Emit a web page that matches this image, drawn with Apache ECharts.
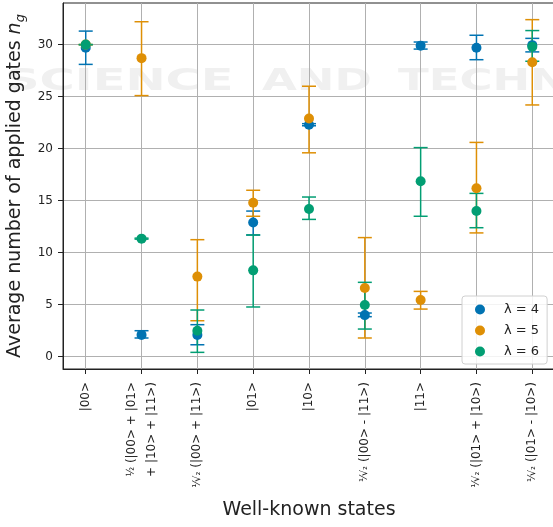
<!DOCTYPE html>
<html>
<head>
<meta charset="utf-8">
<script src="https://cdn.jsdelivr.net/npm/echarts@6/dist/echarts.min.js"></script>
<style>
  html, body { margin: 0; padding: 0; background: #fff; }
  #chart { width: 553px; height: 527px; }
</style>
</head>
<body>
<div id="chart"></div>
<script>
// well-known two-qubit states (x categories)
const states = [
  '|00>',
  '{f|½} (|00> + |01>\n+ |10> + |11>)',
  '{f|¹⁄√₂} (|00> + |11>)',
  '|01>',
  '|10>',
  '{f|¹⁄√₂} (|00> - |11>)',
  '|11>',
  '{f|¹⁄√₂} (|01> + |10>)',
  '{f|¹⁄√₂} (|01> - |10>)'
]
const yTicks = [0, 5, 10, 15, 20, 25, 30]

// λ = 4
const l4Mean = [29.7, 2.1, 2.1, 12.9, 22.3, 4.0, 29.9, 29.7, 29.95]
const l4Low  = [28.1, 1.8, 1.15, 11.7, 22.2, 3.85, 29.57, 28.55, 29.3]
const l4High = [31.3, 2.5, 3.08, 14.0, 22.4, 4.2, 30.25, 30.9, 30.6]
// λ = 5
const l5Mean = [30.0, 28.7, 7.7, 14.8, 22.9, 6.6, 5.45, 16.2, 28.3]
const l5Low  = [30.0, 25.1, 3.46, 13.5, 19.6, 1.8, 4.58, 11.9, 24.2]
const l5High = [30.0, 32.2, 11.25, 16.0, 26.0, 11.45, 6.28, 20.6, 32.4]
// λ = 6
const l6Mean = [30.0, 11.35, 2.5, 8.3, 14.2, 4.97, 16.86, 14.0, 29.8]
const l6Low  = [30.0, 11.3, 0.42, 4.78, 13.2, 2.66, 13.5, 12.4, 28.4]
const l6High = [30.0, 11.4, 4.49, 11.7, 15.35, 7.15, 20.1, 15.7, 31.35]

const names = ['λ = 4', 'λ = 5', 'λ = 6']
const colors = ['#0173b2', '#de8f05', '#029e73']
const groups = [
  [l4Mean, l4Low, l4High],
  [l5Mean, l5Low, l5High],
  [l6Mean, l6Low, l6High]
]

const font = 'DejaVu Sans'

function errorBar(params, api){
  const x = api.value(0)
  const top = api.coord([x, api.value(2)])
  const bot = api.coord([x, api.value(1)])
  const half = 7
  const style = { stroke: api.visual('color'), lineWidth: 1.5 }
  return {
    type: 'group',
    children: [
      { type: 'line', shape: { x1: top[0], y1: top[1], x2: bot[0], y2: bot[1] }, style },
      { type: 'line', shape: { x1: top[0] - half, y1: top[1], x2: top[0] + half, y2: top[1] }, style },
      { type: 'line', shape: { x1: bot[0] - half, y1: bot[1], x2: bot[0] + half, y2: bot[1] }, style }
    ]
  }
}

const series = []
groups.forEach((g, k) => {
  series.push({
    type: 'custom',
    name: names[k],
    color: colors[k],
    renderItem: errorBar,
    encode: { x: 0, y: [1, 2] },
    data: g[0].map((m, i) => [i, g[1][i], g[2][i]]),
    silent: true
  })
  series.push({
    type: 'scatter',
    name: names[k],
    color: colors[k],
    symbol: 'circle',
    symbolSize: 10,
    itemStyle: { opacity: 1 },
    data: g[0].map((m, i) => [i, m]),
    silent: true
  })
})

// faint publisher watermark behind the plot
const wm = 'bold 30px "DejaVu Sans"'
const chart = echarts.init(document.getElementById('chart'), null, { renderer: 'canvas' })
chart.setOption({
  animation: false,
  backgroundColor: '#fff',
  textStyle: { fontFamily: font },
  graphic: [
    { type: 'text', x: 5, y: 67, z: -10, silent: true, scaleX: 1.6,
      style: { text: 'SCIENCE', font: wm, fill: '#f0f0f0' } },
    { type: 'text', x: 262, y: 67, z: -10, silent: true, scaleX: 1.5,
      style: { text: 'AND', font: wm, fill: '#f0f0f0' } },
    { type: 'text', x: 398, y: 67, z: -10, silent: true, scaleX: 1.5,
      style: { text: 'TECHNOLOGY', font: wm, fill: '#f0f0f0' } }
  ],
  grid: {
    left: 63, top: 3, right: -2, bottom: 158,
    outerBoundsMode: 'none',
    containLabel: false,
    show: true, borderColor: '#222', borderWidth: 1, backgroundColor: 'transparent'
  },
  legend: {
    orient: 'vertical',
    left: 462, top: 296,
    padding: [6, 8, 5, 13],
    itemWidth: 10, itemHeight: 10, itemGap: 6,
    icon: 'circle',
    backgroundColor: 'rgba(255,255,255,0.85)',
    borderColor: '#d0d0d0', borderWidth: 1, borderRadius: 3,
    textStyle: { fontFamily: font, fontSize: 13, color: '#222', lineHeight: 15, padding: [0, 0, 0, 14] },
    data: names
  },
  xAxis: {
    type: 'value',
    min: -0.407, max: 8.407,
    splitNumber: 9,
    name: 'Well-known states',
    nameLocation: 'middle',
    nameGap: 132,
    nameTextStyle: { fontFamily: font, fontSize: 19, color: '#222' },
    axisLine: { show: true, onZero: false, lineStyle: { color: '#222', width: 1 } },
    axisTick: { show: true, length: 5, customValues: states.map((s, i) => i), lineStyle: { color: '#222' } },
    axisLabel: {
      customValues: states.map((s, i) => i),
      rotate: 90, margin: 13,
      fontFamily: font, fontSize: 12, color: '#222',
      lineHeight: 20,
      formatter: v => states[Math.round(v)] || '',
      rich: { f: { fontFamily: font, fontSize: 10, color: '#222' } }
    },
    splitLine: { show: true, lineStyle: { color: '#b0b0b0', width: 1 } }
  },
  yAxis: {
    type: 'value',
    min: -1.18, max: 34.0,
    splitNumber: 7,
    name: '{t|Average number of applied gates }{n|n}{g|g}',
    nameLocation: 'middle',
    nameGap: 35,
    nameRotate: 90,
    nameTextStyle: {
      fontFamily: font, fontSize: 19, color: '#222',
      rich: {
        t: { fontFamily: font, fontSize: 19, color: '#222', lineHeight: 24 },
        n: { fontFamily: font, fontSize: 19, color: '#222', fontStyle: 'italic', lineHeight: 24 },
        g: { fontFamily: font, fontSize: 13, color: '#222', fontStyle: 'italic', lineHeight: 24, verticalAlign: 'bottom', padding: [9, 0, 0, 0] }
      }
    },
    axisLine: { show: true, onZero: false, lineStyle: { color: '#222', width: 1 } },
    axisTick: { show: true, length: 5, customValues: yTicks, lineStyle: { color: '#222' } },
    axisLabel: {
      customValues: yTicks,
      margin: 10,
      fontFamily: font, fontSize: 12, color: '#222'
    },
    splitLine: { show: true, lineStyle: { color: '#b0b0b0', width: 1 } }
  },
  series
})
</script>
</body>
</html>
